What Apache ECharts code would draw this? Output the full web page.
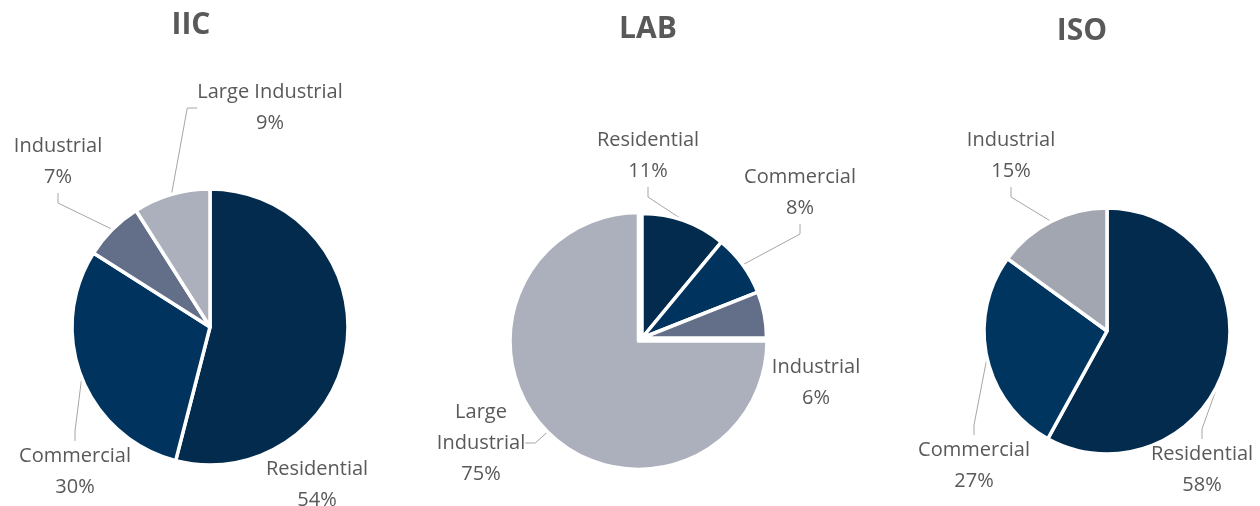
<!DOCTYPE html>
<html>
<head>
<meta charset="utf-8">
<script src="https://cdn.jsdelivr.net/npm/echarts@6/dist/echarts.min.js"></script>
<style>html,body{margin:0;padding:0;background:#fff;}#c{width:1260px;height:506px;}</style>
</head>
<body>
<div id="c"></div>
<script>
var titles = ['IIC', 'LAB', 'ISO'];
var iicCategories = ['Residential', 'Commercial', 'Industrial', 'Large Industrial'];
var iicValues = [54, 30, 7, 9];
var labCategories = ['Residential', 'Commercial', 'Industrial', 'Large Industrial'];
var labValues = [11, 8, 6, 75];
var isoCategories = ['Residential', 'Commercial', 'Industrial'];
var isoValues = [58, 27, 15];

var COL = {
  'Residential': '#022b4e',
  'Commercial': '#00345f',
  'Industrial': '#636e88',
  'Large Industrial': '#abb0bc'
};
var isoCol = {'Residential': '#022b4e', 'Commercial': '#00355f', 'Industrial': '#a1a6b1'};

var FONT = '"Open Sans", "Noto Sans", sans-serif';
var TXT = '#595959';

// layout: label centres
var iicLabelPos = [[317, 485], [75, 472], [58, 162], [270, 108]];
var labLabelPos = [[648, 156], [800, 193], [816, 383], [481, 443]];
var isoLabelPos = [[1202, 470], [974, 466], [1011, 156]];

function buildData(cats, vals, colors, opts) {
  opts = opts || {};
  return cats.map(function (c, i) {
    var hidden = opts.hide && opts.hide.indexOf(i) >= 0;
    var d = {
      name: c, value: vals[i],
      itemStyle: hidden ? {color: 'rgba(0,0,0,0)', borderWidth: 0} : {color: colors[c]},
      label: {show: !hidden},
      labelLine: {show: !hidden && !(opts.noLine && opts.noLine.indexOf(i) >= 0)}
    };
    if (opts.fmt && opts.fmt[i]) d.label.formatter = opts.fmt[i];
    return d;
  });
}

function layoutFn(pos) {
  return function (p) {
    var q = pos[p.dataIndex];
    return {x: q[0], y: q[1], align: 'center', verticalAlign: 'middle'};
  };
}

function pieSeries(center, r, data, pos) {
  return {
    type: 'pie',
    center: center,
    radius: r,
    startAngle: 90,
    clockwise: true,
    avoidLabelOverlap: false,
    animation: false,
    silent: true,
    data: data,
    itemStyle: {borderColor: '#ffffff', borderWidth: 3.5},
    label: {
      show: true, position: 'outside',
      formatter: '{b}\n{c}%',
      fontFamily: FONT, fontSize: 20, color: TXT, lineHeight: 31, align: 'center'
    },
    labelLine: {show: true, length: 10, length2: 10, lineStyle: {color: '#a6a6a6', width: 1}},
    labelLayout: layoutFn(pos)
  };
}

var chart = echarts.init(document.getElementById('c'), null, {renderer: 'canvas'});
chart.setOption({
  backgroundColor: '#ffffff',
  title: [
    {text: titles[0], left: 191, top: 25, textAlign: 'center', textVerticalAlign: 'middle'},
    {text: titles[1], left: 648, top: 29, textAlign: 'center', textVerticalAlign: 'middle'},
    {text: titles[2], left: 1082, top: 31, textAlign: 'center', textVerticalAlign: 'middle'}
  ].map(function (t) {
    t.padding = 0;
    t.textStyle = {fontFamily: FONT, fontWeight: 'bold', fontSize: 30, color: TXT};
    return t;
  }),
  series: [
    pieSeries([210, 327], 138, buildData(iicCategories, iicValues, COL, {noLine: [0]}), iicLabelPos),
    pieSeries([638.5, 341], 128.5, buildData(labCategories, labValues, COL, {hide: [0, 1, 2], fmt: {3: 'Large\nIndustrial\n{c}%'}}), labLabelPos),
    pieSeries([642, 338], 124.5, buildData(labCategories, labValues, COL, {hide: [3], noLine: [2]}), labLabelPos),
    pieSeries([1107, 331], 123, buildData(isoCategories, isoValues, isoCol), isoLabelPos)
  ]
});
</script>
</body>
</html>
